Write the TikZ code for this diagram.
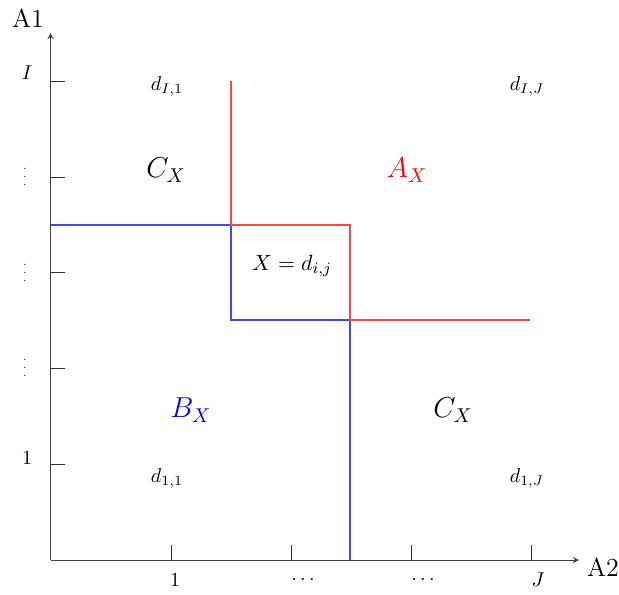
\documentclass[tikz,border=0pt]{standalone}
\definecolor{lnred}{RGB}{255,0,0}
\definecolor{lnblue}{RGB}{0,0,255}
\definecolor{edgered}{RGB}{255,70,70}
\definecolor{edgeblue}{RGB}{70,70,255}
\begin{document}
\begin{tikzpicture}[x=0.5pt,y=-0.5pt,
  axis/.style={->,>=stealth,line width=0.4pt,draw=black!75},
  tickline/.style={line width=0.4pt,draw=black!80},
  lbl/.style={inner sep=0pt,font=\normalsize},
  axlbl/.style={inner sep=0pt,font=\fontsize{13}{15}\selectfont},
  big/.style={inner sep=0pt,font=\Large},
  dots/.style={inner sep=0pt,font=\tiny},
  redline/.style={draw=edgered,line width=0.6pt},
  blueline/.style={draw=edgeblue,line width=0.6pt}]
\useasboundingbox (0,0) rectangle (619,594);
% region boundaries
\coordinate (pL) at (50.5,225);
\coordinate (pA) at (231,225);
\coordinate (pB) at (231,320);
\coordinate (pC) at (350,320);
\coordinate (pBot) at (350,560);
\coordinate (pTop) at (231,81);
\coordinate (pD) at (350,225);
\coordinate (pR) at (530,320);
\draw[blueline] (pL) -- (pA) -- (pB) -- (pC) -- (pBot);
\draw[redline] (pTop) -- (pA) -- (pD) -- (pC) -- (pR);
% axes
\coordinate (O) at (50.5,560);
\coordinate (Ytop) at (50.5,33);
\coordinate (Xend) at (579,560);
\draw[axis] (O) -- (Ytop);
\draw[axis] (O) -- (Xend);
\node[axlbl] (a1) at (28,18) {A1};
\node[axlbl] (a2) at (603,567) {A2};
% y ticks
\foreach \yy/\nn in {81/yI,177/yF,272/yG,368/yH,464/yK}{
  \coordinate (\nn s) at (50.5,\yy);
  \coordinate (\nn e) at (65,\yy);
  \draw[tickline] (\nn s) -- (\nn e);
}
% x ticks
\foreach \xx/\nn in {171/xA,291/xB,411/xC,531/xD}{
  \coordinate (\nn s) at (\xx,560);
  \coordinate (\nn e) at (\xx,545);
  \draw[tickline] (\nn s) -- (\nn e);
}
% y labels
\node[lbl] (lI) at (27,73) {$I$};
\node[dots] (lv4) at (25,171) {$\vdots$};
\node[dots] (lv3) at (25,267) {$\vdots$};
\node[dots] (lv2) at (25,362) {$\vdots$};
\node[lbl] (l1) at (27,458) {$1$};
% x labels
\node[lbl] (m1) at (175,580) {$1$};
\node[lbl] (m2) at (303,580) {$\cdots$};
\node[lbl] (m3) at (423,580) {$\cdots$};
\node[lbl] (mJ) at (538,580) {$J$};
% texts
\node[lbl] (dI1) at (167,86) {$d_{I,1}$};
\node[lbl] (dIJ) at (527,86) {$d_{I,J}$};
\node[big] (cx1) at (166,170) {$C_X$};
\node[big,text=lnred] (ax) at (407,170) {$A_X$};
\node[inner sep=0pt,font=\fontsize{11}{13}\selectfont] (xn) at (292,266) {$X=d_{i,j}$};
\node[big,text=lnblue] (bx) at (191,410) {$B_X$};
\node[big] (cx2) at (453,410) {$C_X$};
\node[lbl] (d11) at (167,478) {$d_{1,1}$};
\node[lbl] (d1J) at (527,478) {$d_{1,J}$};
\end{tikzpicture}
\end{document}
